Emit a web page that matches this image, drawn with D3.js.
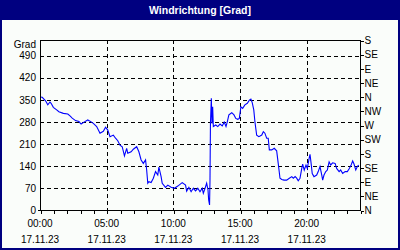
<!DOCTYPE html>
<html>
<head>
<meta charset="utf-8">
<script src="https://cdn.jsdelivr.net/npm/d3@7"></script>
<style>
  html, body { margin: 0; padding: 0; background: #fff; }
  svg { display: block; }
  text { font-family: "Liberation Sans", Arial, sans-serif; font-size: 10px; fill: #000; }
</style>
</head>
<body>
<svg id="chart" width="400" height="250"></svg>
<script>
// wind direction readings, 17.11.23 (time of day, degrees)
const times = [
  "00:00","00:10","00:25","00:35","00:45","00:50","01:00","01:15","01:25","01:45",
  "02:05","02:15","02:25","02:40","02:55","03:05","03:20","03:35","03:50","04:00",
  "04:15","04:30","04:45","04:55","05:05","05:15","05:30","05:40","05:50","06:00",
  "06:10","06:20","06:30","06:35","06:50","07:00","07:15","07:25","07:35","07:45",
  "07:55","08:00","08:05","08:10","08:20","08:30","08:40","08:50","08:55","09:05",
  "09:10","09:25","09:35","09:50","10:05","10:20","10:40","10:55","11:00","11:10",
  "11:20","11:30","11:40","11:50","12:00","12:10","12:15","12:25","12:30","12:36",
  "12:39","12:43","12:45","12:47","12:51","12:54","12:57","13:00","13:11","13:20",
  "13:30","13:40","13:49","13:57","14:03","14:10","14:23","14:33","14:41","14:50",
  "14:57","15:04","15:12","15:22","15:33","15:42","15:49","15:55","16:02","16:07",
  "16:15","16:25","16:38","16:45","16:52","17:00","17:07","17:12","17:23","17:34",
  "17:45","17:52","18:00","18:08","18:18","18:30","18:42","18:53","19:00","19:08",
  "19:15","19:22","19:30","19:38","19:42","19:49","19:57","20:03","20:11","20:15",
  "20:20","20:25","20:33","20:45","20:52","21:00","21:08","21:12","21:18","21:26",
  "21:33","21:41","21:48","21:57","22:08","22:15","22:26","22:33","22:42","22:53",
  "23:03","23:12","23:20","23:27","23:33","23:41","23:48","23:54"
];
const degrees = [
  359, 358, 347, 334, 343, 339, 326, 318, 312, 307,
  305, 299, 292, 284, 281, 273, 280, 286, 280, 275,
  265, 244, 250, 263, 254, 233, 238, 228, 220, 206,
  201, 172, 196, 180, 185, 193, 201, 185, 159, 148,
  159, 127, 85, 90, 87, 101, 122, 111, 136, 106,
  85, 72, 79, 72, 69, 76, 87, 79, 60, 72,
  58, 69, 61, 69, 58, 69, 53, 74, 85, 64,
  32, 16, 95, 275, 355, 275, 328, 265, 270, 265,
  273, 267, 279, 265, 281, 302, 309, 302, 291, 288,
  291, 328, 323, 334, 339, 349, 352, 341, 318, 281,
  238, 233, 238, 249, 244, 228, 228, 191, 191, 196,
  188, 148, 101, 97, 95, 95, 101, 106, 101, 106,
  101, 93, 101, 132, 146, 127, 143, 132, 164, 177,
  148, 116, 106, 111, 122, 138, 111, 95, 111, 122,
  127, 153, 143, 150, 148, 132, 122, 127, 116, 122,
  122, 132, 143, 156, 146, 127, 138, 143
];

// axis labels
const gradTicks = [0, 70, 140, 210, 280, 350, 420, 490];
const compassLabels = ["N", "NE", "E", "SE", "S", "SW", "W", "NW", "N", "NE", "E", "SE", "S"];
const hourLabels = ["00:00", "05:00", "10:00", "15:00", "20:00"];
const dateLabel = "17.11.23";
const title = "Windrichtung [Grad]";

const width = 400;
const height = 250;
const navy = "#000080";
const margin = {top: 40, right: 40, bottom: 40, left: 40};

const parseTime = d3.timeParse("%d.%m.%y %H:%M");
const data = times.map((t, i) => ({date: parseTime(dateLabel + " " + t), value: degrees[i]}));

const dayStart = parseTime(dateLabel + " 00:00");
const dayEnd = d3.timeDay.offset(dayStart, 1);

const x = d3.scaleTime()
    .domain([dayStart, dayEnd])
    .range([margin.left, width - margin.right]);

const y = d3.scaleLinear()
    .domain([0, 540])
    .range([height - margin.bottom, margin.top]);

const svg = d3.select("#chart");

// background + frame + title bar
svg.append("rect")
    .attr("width", width).attr("height", height)
    .attr("fill", "#fafdfa");
svg.append("rect")
    .attr("width", width).attr("height", 20)
    .attr("fill", navy);
svg.append("rect")
    .attr("x", 1).attr("y", 1)
    .attr("width", width - 2).attr("height", height - 2)
    .attr("fill", "none")
    .attr("stroke", navy)
    .attr("stroke-width", 2);

svg.append("text")
    .attr("x", width / 2)
    .attr("y", 14)
    .attr("text-anchor", "middle")
    .style("font-weight", "bold")
    .style("font-size", "10.5px")
    .style("fill", "#fff")
    .text(title);

const x0 = margin.left, x1 = width - margin.right;
const y0 = height - margin.bottom, y1 = margin.top;

// dashed grid
const grid = svg.append("g")
    .attr("stroke", "#000")
    .attr("stroke-dasharray", "4,3")
    .attr("shape-rendering", "crispEdges");

grid.selectAll(".hgrid")
    .data(gradTicks.filter(d => d > 0))
    .enter()
    .append("line")
    .attr("x1", x0).attr("x2", x1)
    .attr("y1", d => Math.round(y(d)) + 0.5)
    .attr("y2", d => Math.round(y(d)) + 0.5);

const hourDates = hourLabels.map(h => parseTime(dateLabel + " " + h));

grid.selectAll(".vgrid")
    .data(hourDates.slice(1))
    .enter()
    .append("line")
    .attr("y1", y1).attr("y2", y0)
    .attr("x1", d => Math.round(x(d)) + 0.5)
    .attr("x2", d => Math.round(x(d)) + 0.5);

// the wind line
const line = d3.line()
    .x(d => x(d.date))
    .y(d => y(d.value));

svg.append("path")
    .datum(data)
    .attr("fill", "none")
    .attr("stroke", "#0000ff")
    .attr("stroke-width", 1.1)
    .attr("d", line);

// plot frame
svg.append("rect")
    .attr("x", x0 + 0.5).attr("y", y1 + 0.5)
    .attr("width", x1 - x0).attr("height", y0 - y1)
    .attr("fill", "none")
    .attr("stroke", "#000")
    .attr("shape-rendering", "crispEdges");

// bottom axis: hourly ticks
const xAxis = d3.axisBottom(x)
    .ticks(d3.timeHour.every(1))
    .tickSize(3)
    .tickFormat("");

svg.append("g")
    .attr("transform", `translate(0.5,${y0 + 0.5})`)
    .call(xAxis)
    .call(g => g.select(".domain").remove())
    .call(g => g.selectAll("line").attr("shape-rendering", "crispEdges"));

svg.append("line")
    .attr("x1", x0 - 2).attr("x2", x0)
    .attr("y1", y0 + 0.5).attr("y2", y0 + 0.5)
    .attr("stroke", "#000")
    .attr("shape-rendering", "crispEdges");

const xLabels = svg.append("g")
    .selectAll("g")
    .data(hourDates)
    .enter()
    .append("text")
    .attr("text-anchor", "middle")
    .attr("transform", d => `translate(${x(d)},0)`);

xLabels.append("tspan")
    .attr("x", 0).attr("y", 227)
    .text(d => d3.timeFormat("%H:%M")(d));
xLabels.append("tspan")
    .attr("x", 0).attr("y", 243)
    .text(d => d3.timeFormat("%d.%m.%y")(d));

// left axis labels
const yAxis = d3.axisLeft(y)
    .tickValues(gradTicks)
    .tickSize(0)
    .tickPadding(4);

svg.append("g")
    .attr("transform", `translate(${x0},0)`)
    .call(yAxis)
    .call(g => g.select(".domain").remove());

svg.append("text")
    .attr("x", x0 - 4)
    .attr("y", 45)
    .attr("dy", "0.32em")
    .attr("text-anchor", "end")
    .text("Grad");

// right axis: compass directions
const yAxisRight = d3.axisRight(y)
    .tickValues(d3.range(0, 541, 45))
    .tickSize(3)
    .tickPadding(1)
    .tickFormat((d, i) => compassLabels[i]);

svg.append("g")
    .attr("transform", `translate(${x1 + 0.5},0.5)`)
    .call(yAxisRight)
    .call(g => g.select(".domain").remove())
    .call(g => g.selectAll("line").attr("shape-rendering", "crispEdges"));

// d3 axis sets font attrs on the group; clear them so the css applies
svg.selectAll("g[font-family]").attr("font-family", null).attr("font-size", null);
</script>
</body>
</html>
